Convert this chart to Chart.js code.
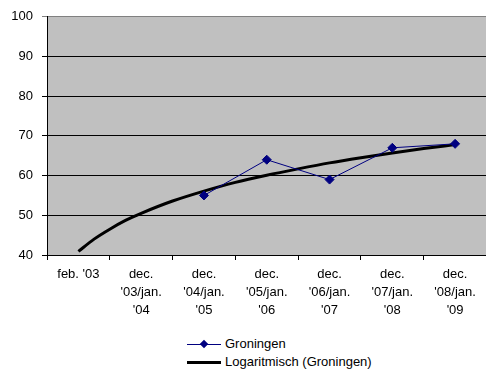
<!DOCTYPE html>
<html>
<head>
<meta charset="utf-8">
<script src="https://cdn.jsdelivr.net/npm/chart.js@4.4.1/dist/chart.umd.min.js"></script>
<style>
  html, body { margin: 0; padding: 0; background: #fff; }
  #wrap { position: relative; width: 486px; height: 374px; overflow: hidden; }
  #box { position: absolute; left: 0; top: 0; width: 492px; height: 330px; }
  #legend { position: absolute; left: 187px; top: 335px; font: 13px "Liberation Sans", Arial, sans-serif; color: #000; }
  .row { height: 18px; line-height: 18px; white-space: nowrap; }
  .sw { display: inline-block; position: relative; width: 34px; height: 18px; vertical-align: top; margin-right: 4px; }
  .sw .ln { position: absolute; left: 0; right: 0; top: 9px; }
  .sw .dm { position: absolute; left: 14px; top: 6px; width: 6px; height: 6px; background: #000080; transform: rotate(45deg); }
</style>
</head>
<body>
<div id="wrap">
  <div id="box"><canvas id="chart"></canvas></div>
  <div id="legend">
    <div class="row"><span class="sw"><span class="ln" style="border-top:1px solid #000080"></span><span class="dm"></span></span>Groningen</div>
    <div class="row"><span class="sw"><span class="ln" style="border-top:3px solid #000;top:8px"></span></span>Logaritmisch (Groningen)</div>
  </div>
</div>
<script>
// categories on the x axis
const periods = [
    "feb. '03",
    ["dec.", "'03/jan.", "'04"],
    ["dec.", "'04/jan.", "'05"],
    ["dec.", "'05/jan.", "'06"],
    ["dec.", "'06/jan.", "'07"],
    ["dec.", "'07/jan.", "'08"],
    ["dec.", "'08/jan.", "'09"]
];
// measured values (first two periods have no data)
const groningen = [null, null, 55, 64, 59, 67, 68];
// logarithmic trendline (x = period number, 1 = feb. '03)
const trendX = [1, 1.25, 1.5, 1.75, 2, 2.5, 3, 3.5, 4, 4.5, 5, 5.5, 6, 6.5, 7];
const trendY = [40.9, 44.0, 46.5, 48.7, 50.5, 53.6, 56.1, 58.3, 60.1, 61.7, 63.2, 64.5, 65.7, 66.8, 67.8];
const yTicks = [40, 50, 60, 70, 80, 90, 100];

const FONT = { family: '"Liberation Sans", Arial, sans-serif', size: 13 };

// gray plot area like the original
const plotBg = {
    id: 'plotBg',
    beforeDraw(chart) {
        const { ctx, chartArea: a } = chart;
        ctx.save();
        ctx.fillStyle = '#C0C0C0';
        ctx.fillRect(a.left, a.top, a.right - a.left, a.bottom - a.top);
        ctx.restore();
    }
};

const ctx = document.getElementById('chart').getContext('2d');
new Chart(ctx, {
    type: 'line',
    data: {
        labels: periods,
        datasets: [
            {
                label: 'Groningen',
                data: groningen,
                borderColor: '#000080',
                backgroundColor: '#000080',
                borderWidth: 1,
                pointStyle: 'rectRot',
                pointRadius: 4.5,
                pointBorderWidth: 1,
                tension: 0,
                order: 1
            },
            {
                label: 'Logaritmisch (Groningen)',
                data: trendX.map((x, i) => ({ x, y: trendY[i] })),
                xAxisID: 'x2',
                borderColor: '#000',
                borderWidth: 3,
                pointRadius: 0,
                cubicInterpolationMode: 'monotone',
                order: 2
            }
        ]
    },
    options: {
        responsive: true,
        maintainAspectRatio: false,
        animation: false,
        layout: { padding: { top: 15, right: 2, left: 0, bottom: 0 } },
        plugins: { legend: { display: false }, tooltip: { enabled: false } },
        scales: {
            x: {
                offset: true,
                grid: { offset: true, drawOnChartArea: false, color: '#000', tickLength: 5 },
                border: { color: '#000' },
                ticks: { color: '#000', font: { ...FONT, lineHeight: 1.4 }, padding: 5, maxRotation: 0, autoSkip: false },
                afterFit(s) { s.height = 75; }
            },
            // hidden numeric axis matching the category slots, for the trendline
            x2: { type: 'linear', display: false, min: 0.5, max: 7.5 },
            y: {
                min: 40,
                max: 100,
                afterBuildTicks(s) { s.ticks = yTicks.map(v => ({ value: v })); },
                grid: {
                    color: c => (c.tick && c.tick.value === 100) ? '#808080' : '#000',
                    tickLength: 5
                },
                border: { color: '#000' },
                ticks: { color: '#000', font: FONT, padding: 9 },
                afterFit(s) { s.width = 47; }
            }
        }
    },
    plugins: [plotBg]
});
</script>
</body>
</html>
